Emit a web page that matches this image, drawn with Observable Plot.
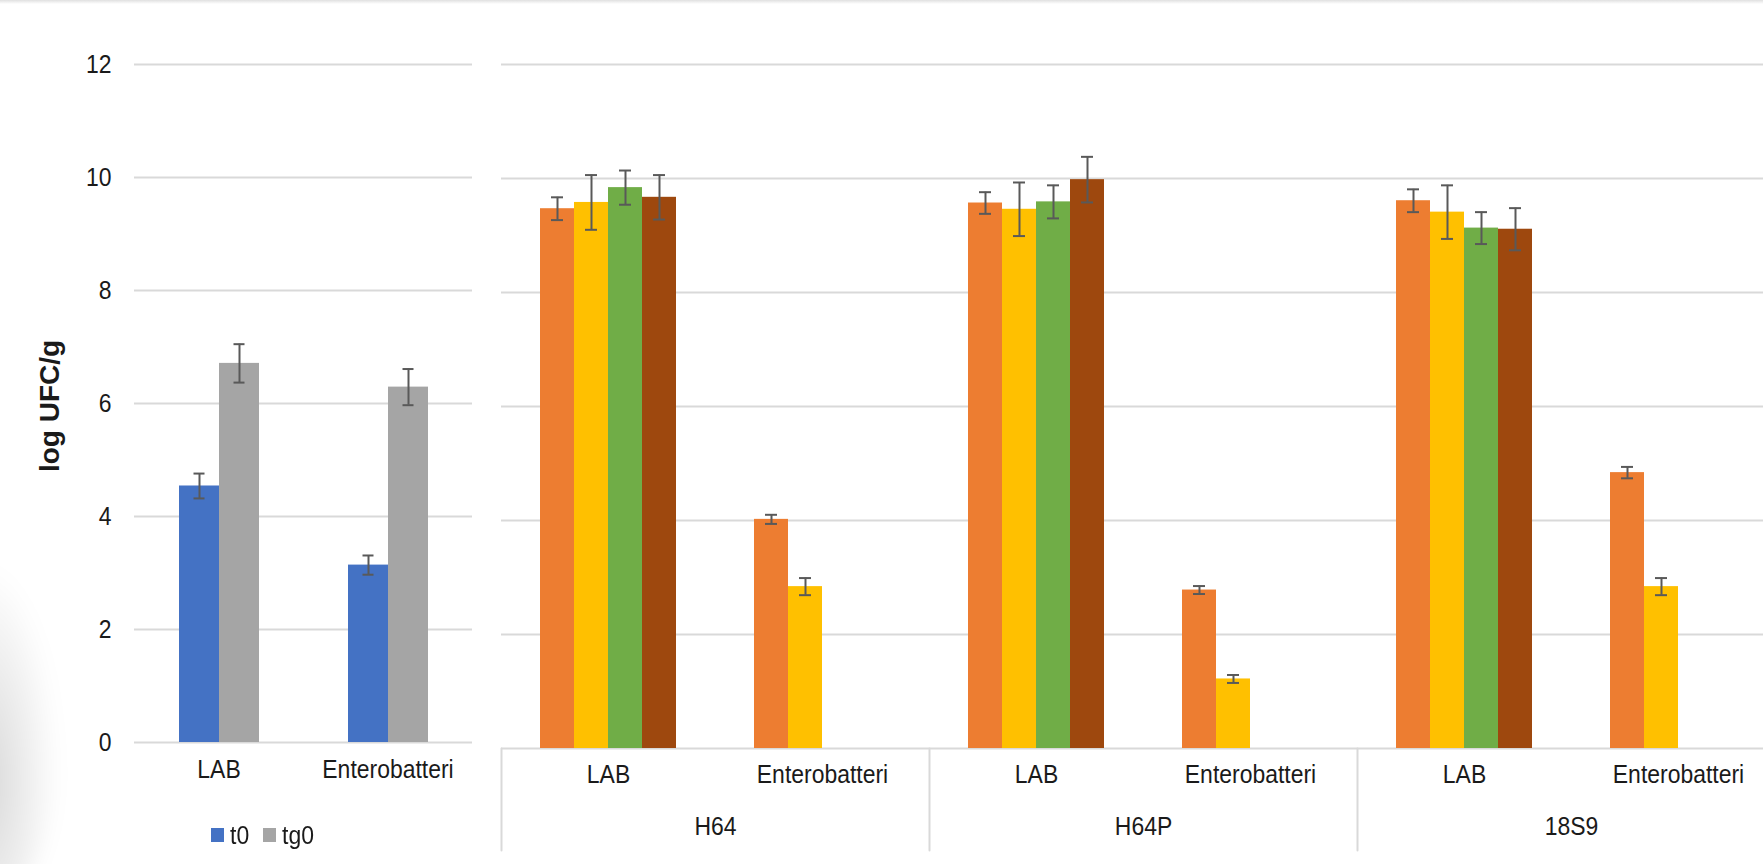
<!DOCTYPE html>
<html>
<head>
<meta charset="utf-8">
<script src="https://cdn.jsdelivr.net/npm/d3@7"></script>
<script src="https://cdn.jsdelivr.net/npm/@observablehq/plot@0.6"></script>
<style>
  html, body { margin: 0; padding: 0; background: #fff; overflow: hidden; width: 1763px; height: 864px; }
  #stage { position: relative; width: 1763px; height: 864px; overflow: hidden; background: #fff;
    font-family: "Liberation Sans", Arial, sans-serif; color: #1a1a1a; }
  #topline { position: absolute; left: 0; top: 0; width: 1763px; height: 4px; background: linear-gradient(#e0e0e0, #fff); }
  #smudge { position: absolute; left: -70px; top: 560px; width: 130px; height: 340px; border-radius: 50%;
    background: radial-gradient(ellipse at 40% 65%, rgba(0,0,0,0.16), rgba(0,0,0,0) 70%); filter: blur(10px); }
  #left { position: absolute; left: 0; top: 0; width: 480px; }
  #right { position: absolute; left: 480px; top: 0; width: 1316px; }
  #left svg, #right svg { max-width: none !important; }
  #ytitle { position: absolute; left: -50px; top: 391px; width: 200px; height: 30px; line-height: 30px; text-align: center;
    font-family: "Liberation Sans", Arial, sans-serif; font-weight: bold; font-size: 28px; color: #1a1a1a; transform: rotate(-90deg); }
  #legend { position: absolute; left: 211px; top: 819px; display: flex; align-items: center; font-size: 25.5px; line-height: 32px; }
  #legend .item { display: flex; align-items: center; }
  #legend .sw { width: 13px; height: 14px; margin-right: 6px; }
  #legend span { display: inline-block; transform: scaleX(0.9); transform-origin: left center; }
</style>
</head>
<body>
<div id="stage">
  <div id="topline"></div>
  <div id="smudge"></div>
  <div id="left"></div>
  <div id="right"></div>
  <div id="ytitle">log UFC/g</div>
  <div id="legend"></div>
</div>
<script>
// ---------- data ----------
const yTicks = [0, 2, 4, 6, 8, 10, 12];

// left panel
const leftCategories = ["LAB", "Enterobatteri"];
const leftSeries = ["t0", "tg0"];
const leftColors = ["#4472C4", "#A5A5A5"];
const t0Values = [4.54, 3.14];
const t0Errors = [0.22, 0.17];
const tg0Values = [6.71, 6.29];
const tg0Errors = [0.34, 0.32];

// right panel
const strains = ["H64", "H64P", "18S9"];
const microbes = ["LAB", "Enterobatteri"];
const rightSeries = ["T1", "T2", "T3", "T4"];
const rightColors = ["#ED7D31", "#FFC000", "#70AD47", "#9E480E"];
// order: H64-LAB, H64-Enterobatteri, H64P-LAB, H64P-Enterobatteri, 18S9-LAB, 18S9-Enterobatteri
const s1Values = [9.47, 4.02, 9.57, 2.78, 9.61, 4.84];
const s1Errors = [0.20, 0.08, 0.19, 0.07, 0.20, 0.10];
const s2Values = [9.58, 2.84, 9.46, 1.22, 9.41, 2.84];
const s2Errors = [0.48, 0.15, 0.47, 0.07, 0.47, 0.15];
const s3Values = [9.84, 0, 9.59, 0, 9.13, 0];
const s3Errors = [0.30, 0, 0.29, 0, 0.28, 0];
const s4Values = [9.67, 0, 9.98, 0, 9.11, 0];
const s4Errors = [0.39, 0, 0.40, 0, 0.37, 0];

// ---------- tables ----------
const FONT = '"Liberation Sans", Arial, sans-serif';
const FS = 25.5;
const GRID = "#d9d9d9";
const ERR = "#595959";
const TEXT = "#1a1a1a";

const leftData = [];
[[t0Values, t0Errors], [tg0Values, tg0Errors]].forEach(([vals, errs], si) => {
  leftCategories.forEach((c, ci) => leftData.push({category: c, series: leftSeries[si], value: vals[ci], err: errs[ci]}));
});

const rightKeys = strains.flatMap(s => microbes.map(m => s + "|" + m));
const rightData = [];
[[s1Values, s1Errors], [s2Values, s2Errors], [s3Values, s3Errors], [s4Values, s4Errors]].forEach(([vals, errs], si) => {
  rightKeys.forEach((k, ki) => rightData.push({key: k, series: rightSeries[si], value: vals[ki], err: errs[ki]}));
});
const rightErr = rightData.filter(d => d.err > 0);

// condense text horizontally (Arial Narrow look)
function narrow(svg, k) {
  svg.querySelectorAll("text").forEach(t => {
    const ax = parseFloat(t.getAttribute("x")) || 0;
    const prev = t.getAttribute("transform") || "";
    t.setAttribute("transform", `${prev} translate(${ax},0) scale(${k},1) translate(${-ax},0)`);
  });
}

// ---------- left chart ----------
const leftPlot = Plot.plot({
  width: 480, height: 864,
  marginLeft: 133, marginRight: 8, marginTop: 64, marginBottom: 122,
  style: {fontFamily: FONT, fontSize: FS + "px", color: TEXT, background: "transparent", overflow: "visible", maxWidth: "none"},
  fx: {domain: leftCategories, padding: 0, axis: null},
  x: {domain: leftSeries, paddingInner: 0, paddingOuter: 1.067, axis: null},
  y: {domain: [0, 12], axis: null},
  color: {domain: leftSeries, range: leftColors},
  marks: [
    Plot.gridY(yTicks, {stroke: GRID, strokeOpacity: 1, strokeWidth: 2}),
    Plot.axisY(yTicks, {tickSize: 0, tickPadding: 23, fontSize: FS, fill: TEXT, label: null, tickFormat: d => String(d)}),
    Plot.barY(leftData, {fx: "category", x: "series", y: "value", fill: "series"}),
    Plot.ruleX(leftData, {fx: "category", x: "series", y1: d => d.value - d.err, y2: d => d.value + d.err, stroke: ERR, strokeWidth: 2}),
    Plot.tickY(leftData, {fx: "category", x: "series", y: d => d.value - d.err, stroke: ERR, strokeWidth: 2, inset: 14.5}),
    Plot.tickY(leftData, {fx: "category", x: "series", y: d => d.value + d.err, stroke: ERR, strokeWidth: 2, inset: 14.5}),
    Plot.text(leftCategories, {fx: d => d, text: d => d, frameAnchor: "bottom", dy: 35, fontSize: FS, fill: TEXT})
  ]
});
narrow(leftPlot, 0.9);
document.getElementById("left").appendChild(leftPlot);

// ---------- right chart ----------
const dividerShape = {draw(context, l) { context.moveTo(0, 0); context.lineTo(0, -l); }};
const rightPlot = Plot.plot({
  width: 1316, height: 864,
  marginLeft: 19, marginRight: 10, marginTop: 64, marginBottom: 116,
  style: {fontFamily: FONT, fontSize: FS + "px", color: TEXT, background: "transparent", overflow: "visible", maxWidth: "none"},
  fx: {domain: rightKeys, padding: 0, axis: null},
  x: {domain: rightSeries, paddingInner: 0, paddingOuter: 1.11, axis: null},
  y: {domain: [0, 12], axis: null},
  color: {domain: rightSeries, range: rightColors},
  marks: [
    Plot.gridY(yTicks, {stroke: GRID, strokeOpacity: 1, strokeWidth: 2}),
    Plot.barY(rightData, {fx: "key", x: "series", y: "value", fill: "series"}),
    Plot.ruleX(rightErr, {fx: "key", x: "series", y1: d => d.value - d.err, y2: d => d.value + d.err, stroke: ERR, strokeWidth: 2}),
    Plot.tickY(rightErr, {fx: "key", x: "series", y: d => d.value - d.err, stroke: ERR, strokeWidth: 2, inset: 11}),
    Plot.tickY(rightErr, {fx: "key", x: "series", y: d => d.value + d.err, stroke: ERR, strokeWidth: 2, inset: 11}),
    Plot.vector(strains, {fx: d => d + "|LAB", frameAnchor: "bottom-left", length: 102, rotate: 180, anchor: "start", shape: dividerShape, stroke: GRID, strokeWidth: 2}),
    Plot.text(rightKeys, {fx: d => d, text: d => d.split("|")[1], frameAnchor: "bottom", dy: 34, fontSize: FS, fill: TEXT}),
    Plot.text(strains, {fx: d => d + "|Enterobatteri", text: d => d, frameAnchor: "bottom-left", textAnchor: "middle", dy: 86, fontSize: FS, fill: TEXT})
  ]
});
narrow(rightPlot, 0.9);
document.getElementById("right").appendChild(rightPlot);

// ---------- legend (left panel) ----------
const legend = document.getElementById("legend");
leftSeries.forEach((s, i) => {
  const item = document.createElement("div");
  item.className = "item";
  const sw = document.createElement("div");
  sw.className = "sw";
  sw.style.background = leftColors[i];
  const tx = document.createElement("span");
  tx.textContent = s;
  item.appendChild(sw); item.appendChild(tx);
  legend.appendChild(item);
  const w = tx.getBoundingClientRect().width; // already scaled width
  tx.style.marginRight = (w - tx.offsetWidth + 14) + "px";
});
</script>
</body>
</html>
